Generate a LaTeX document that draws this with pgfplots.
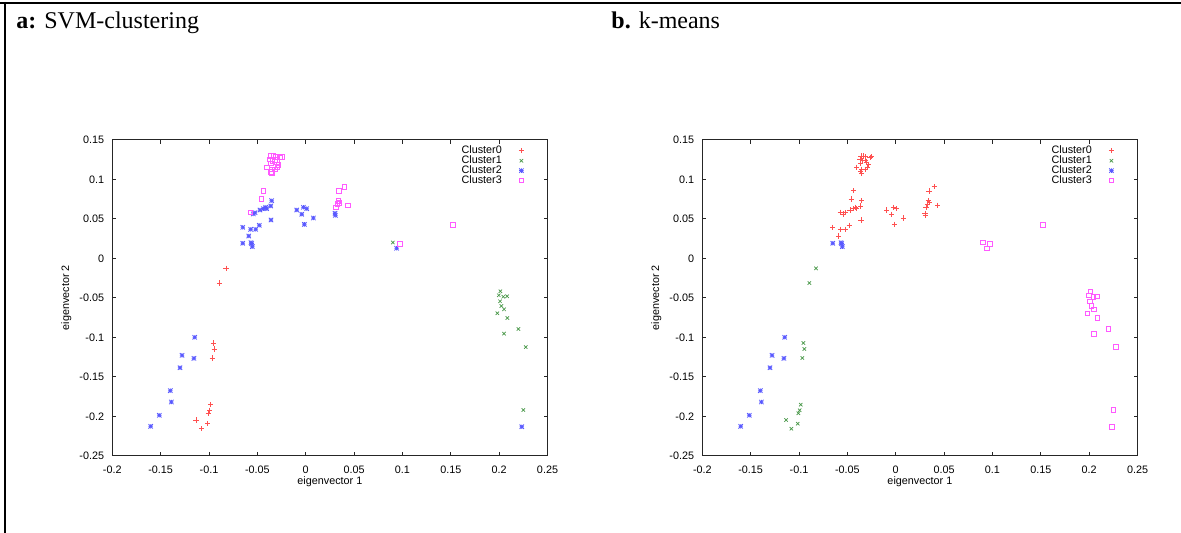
\documentclass[border=0pt]{standalone}
\usepackage{pgfplots}
\pgfplotsset{compat=1.18}
\usepackage{pgfplotstable}
\usepackage{fontspec}
\setmainfont{Liberation Serif}
\newfontfamily\arial{Liberation Sans}

% gnuplot-style "*" point: plus and cross together
\pgfdeclareplotmark{gpstar}{%
  \pgfpathmoveto{\pgfqpoint{-\pgfplotmarksize}{0pt}}\pgfpathlineto{\pgfqpoint{\pgfplotmarksize}{0pt}}%
  \pgfpathmoveto{\pgfqpoint{0pt}{-\pgfplotmarksize}}\pgfpathlineto{\pgfqpoint{0pt}{\pgfplotmarksize}}%
  \pgfpathmoveto{\pgfqpoint{-\pgfplotmarksize}{-\pgfplotmarksize}}\pgfpathlineto{\pgfqpoint{\pgfplotmarksize}{\pgfplotmarksize}}%
  \pgfpathmoveto{\pgfqpoint{-\pgfplotmarksize}{\pgfplotmarksize}}\pgfpathlineto{\pgfqpoint{\pgfplotmarksize}{-\pgfplotmarksize}}%
  \pgfusepathqstroke}

\definecolor{gpred}{RGB}{255,80,80}
\definecolor{gpgreen}{RGB}{70,150,70}
\definecolor{gpblue}{RGB}{90,90,255}
\definecolor{gpmag}{RGB}{255,90,255}

% ---- SVM-clustering (a) ----
\pgfplotstableread{
x y
-0.0824 -0.0127
-0.0893 -0.0313
-0.0955 -0.1072
-0.0945 -0.1148
-0.0966 -0.1262
-0.0982 -0.1853
-0.0993 -0.1924
-0.1007 -0.1962
-0.1134 -0.2047
-0.1013 -0.2094
-0.1079 -0.2157
}\svmzero
\pgfplotstableread{
x y
0.0900 0.0200
0.2013 -0.0418
0.1996 -0.0468
0.2043 -0.0486
0.2082 -0.0481
0.2009 -0.0544
0.2023 -0.0604
0.2051 -0.0646
0.1981 -0.0696
0.2085 -0.0756
0.2199 -0.0895
0.2051 -0.0954
0.2275 -0.1123
0.2250 -0.1920
}\svmone
\pgfplotstableread{
x y
-0.0651 0.0392
-0.0569 0.0367
-0.0517 0.0367
-0.0480 0.0418
-0.0589 0.0282
-0.0542 0.0561
-0.0524 0.0577
-0.0473 0.0611
-0.0438 0.0628
-0.0414 0.0646
-0.0404 0.0628
-0.0362 0.0662
-0.0352 0.0729
-0.0359 0.0485
-0.0093 0.0611
-0.0024 0.0646
0.0010 0.0628
-0.0041 0.0557
0.0079 0.0510
-0.0014 0.0430
0.0303 0.0570
0.0306 0.0544
-0.0651 0.0190
-0.0566 0.0198
-0.0559 0.0186
-0.0552 0.0147
-0.1148 -0.1000
-0.1279 -0.1228
-0.1156 -0.1266
-0.1300 -0.1385
-0.1400 -0.1676
-0.1389 -0.1819
-0.1514 -0.1987
-0.1603 -0.2127
0.0940 0.0127
0.2234 -0.2132
}\svmtwo
\pgfplotstableread{
x y
-0.0359 0.1295
-0.0335 0.1295
-0.0310 0.1286
-0.0248 0.1286
-0.0266 0.1278
-0.0369 0.1253
-0.0345 0.1236
-0.0317 0.1244
-0.0300 0.1219
-0.0362 0.1202
-0.0283 0.1185
-0.0403 0.1152
-0.0294 0.1152
-0.0352 0.1127
-0.0317 0.1127
-0.0362 0.1097
-0.0352 0.1076
-0.0438 0.0856
-0.0459 0.0751
-0.0573 0.0582
0.0399 0.0906
0.0344 0.0852
0.0337 0.0729
0.0348 0.0704
0.0327 0.0687
0.0313 0.0646
0.0434 0.0671
0.0975 0.0180
0.1520 0.0420
}\svmthree

% ---- k-means (b) ----
\pgfplotstableread{
x y
-0.0359 0.1295
-0.0335 0.1295
-0.0310 0.1286
-0.0248 0.1286
-0.0266 0.1278
-0.0369 0.1253
-0.0345 0.1236
-0.0317 0.1244
-0.0300 0.1219
-0.0362 0.1202
-0.0283 0.1185
-0.0403 0.1152
-0.0294 0.1152
-0.0352 0.1127
-0.0317 0.1127
-0.0362 0.1097
-0.0352 0.1076
-0.0438 0.0856
-0.0459 0.0751
-0.0573 0.0582
0.0399 0.0906
0.0344 0.0852
0.0337 0.0729
0.0348 0.0704
0.0327 0.0687
0.0313 0.0646
0.0434 0.0671
-0.0651 0.0392
-0.0569 0.0367
-0.0517 0.0367
-0.0480 0.0418
-0.0589 0.0282
-0.0542 0.0561
-0.0524 0.0577
-0.0473 0.0611
-0.0438 0.0628
-0.0414 0.0646
-0.0404 0.0628
-0.0362 0.0662
-0.0352 0.0729
-0.0359 0.0485
-0.0093 0.0611
-0.0024 0.0646
0.0010 0.0628
-0.0041 0.0557
0.0079 0.0510
-0.0014 0.0430
0.0303 0.0570
0.0306 0.0544
}\kmzero
\pgfplotstableread{
x y
-0.0824 -0.0127
-0.0893 -0.0313
-0.0955 -0.1072
-0.0945 -0.1148
-0.0966 -0.1262
-0.0982 -0.1853
-0.0993 -0.1924
-0.1007 -0.1962
-0.1134 -0.2047
-0.1013 -0.2094
-0.1079 -0.2157
}\kmone
\pgfplotstableread{
x y
-0.0651 0.0190
-0.0566 0.0198
-0.0559 0.0186
-0.0552 0.0147
-0.1148 -0.1000
-0.1279 -0.1228
-0.1156 -0.1266
-0.1300 -0.1385
-0.1400 -0.1676
-0.1389 -0.1819
-0.1514 -0.1987
-0.1603 -0.2127
}\kmtwo
\pgfplotstableread{
x y
0.0900 0.0200
0.2013 -0.0418
0.1996 -0.0468
0.2043 -0.0486
0.2082 -0.0481
0.2009 -0.0544
0.2023 -0.0604
0.2051 -0.0646
0.1981 -0.0696
0.2085 -0.0756
0.2199 -0.0895
0.2051 -0.0954
0.2275 -0.1123
0.2250 -0.1920
0.0940 0.0127
0.2234 -0.2132
0.0975 0.0180
0.1520 0.0420
}\kmthree

\pgfplotsset{
  gpaxis/.style={
    anchor=south west, scale only axis,
    width=217.6pt, height=158pt,
    xmin=-0.2, xmax=0.25, ymin=-0.25, ymax=0.15,
    xtick={-0.2,-0.15,-0.1,-0.05,0,0.05,0.1,0.15,0.2,0.25},
    xticklabels={-0.2,-0.15,-0.1,-0.05,0,0.05,0.1,0.15,0.2,0.25},
    ytick={-0.25,-0.2,-0.15,-0.1,-0.05,0,0.05,0.1,0.15},
    yticklabels={-0.25,-0.2,-0.15,-0.1,-0.05,0,0.05,0.1,0.15},
    tick align=inside, major tick length=2pt,
    axis line style={black!85, line width=0.5pt},
    tick style={black!85, line width=0.45pt},
    tick label style={font=\arial\fontsize{5.4}{6}\selectfont},
    xticklabel style={yshift=-1.5pt},
    yticklabel style={xshift=-0.6pt},
    xlabel={eigenvector 1}, ylabel={eigenvector 2},
    every axis x label/.style={at={(axis description cs:0.5,0)}, anchor=center, yshift=-13pt,
      font=\arial\fontsize{5.4}{6}\selectfont},
    every axis y label/.style={at={(axis description cs:-0.1057,0.5)}, anchor=center, rotate=90,
      font=\arial\fontsize{5.4}{6}\selectfont},
    legend style={draw=none, fill=none, at={(0.947,0.982)}, anchor=north east,
      font=\arial\fontsize{5.4}{6}\selectfont, inner sep=0pt, row sep=0pt,
      nodes={inner sep=0.3pt, text height=3.5pt, text depth=0.85pt},
      /tikz/every odd column/.style={column sep=8.2pt}},
    legend cell align=right, legend plot pos=right,
    c0/.style={only marks, mark=+, mark size=1.3pt, gpred, line width=0.35pt,
      mark options={draw=gpred}},
    c1/.style={only marks, mark=x, mark size=1.2pt, gpgreen, line width=0.35pt,
      mark options={draw=gpgreen}},
    c2/.style={only marks, mark=gpstar, mark size=1.1pt, gpblue, line width=0.4pt,
      mark options={draw=gpblue}},
    c3/.style={only marks, mark=square, mark size=1.15pt, gpmag, line width=0.35pt,
      mark options={draw=gpmag}},
  }
}

\begin{document}
\begin{tikzpicture}
\path[use as bounding box] (0,0) rectangle (590.5pt,266.5pt);
% table frame
\draw[line width=1.3pt] (0,265pt) -- (590.5pt,265pt);
\draw[line width=1pt] (2.5pt,265.6pt) -- (2.5pt,0);
\node[anchor=base west, inner sep=0pt, font=\fontsize{12}{14}\selectfont] at (8pt,252pt) {\textbf{a:} SVM-clustering};
\node[anchor=base west, inner sep=0pt, font=\fontsize{12}{14}\selectfont] at (305.5pt,252pt) {\textbf{b.} k-means};

\begin{axis}[gpaxis, at={(56.15pt,38.6pt)}]
\addplot[c0] table {\svmzero};
\addlegendentry{Cluster0}
\addplot[c1] table {\svmone};
\addlegendentry{Cluster1}
\addplot[c2] table {\svmtwo};
\addlegendentry{Cluster2}
\addplot[c3] table {\svmthree};
\addlegendentry{Cluster3}
\end{axis}

\begin{axis}[gpaxis, at={(351.15pt,38.6pt)}]
\addplot[c0] table {\kmzero};
\addlegendentry{Cluster0}
\addplot[c1] table {\kmone};
\addlegendentry{Cluster1}
\addplot[c2] table {\kmtwo};
\addlegendentry{Cluster2}
\addplot[c3] table {\kmthree};
\addlegendentry{Cluster3}
\end{axis}
\end{tikzpicture}
\end{document}
